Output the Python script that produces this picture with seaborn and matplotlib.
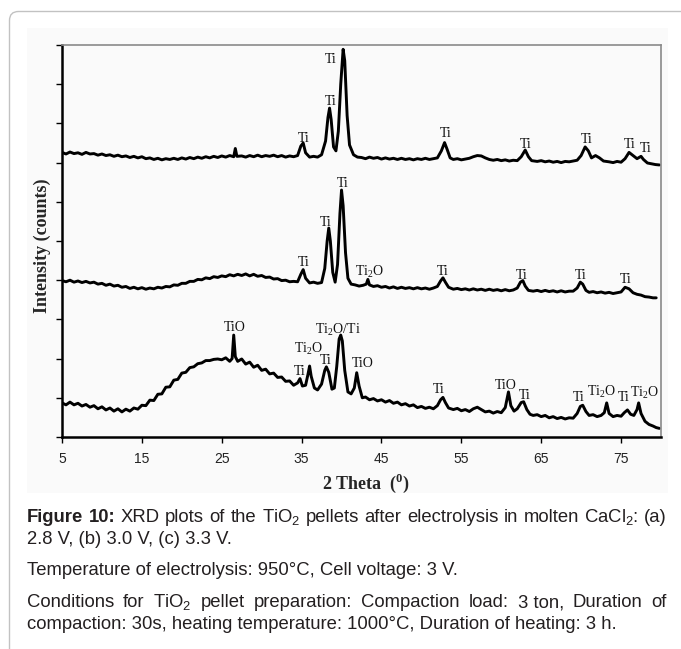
import matplotlib
matplotlib.use("Agg")
import matplotlib.pyplot as plt
import numpy as np
import pandas as pd
import seaborn as sns
from matplotlib.patches import FancyBboxPatch, Rectangle
from matplotlib.transforms import IdentityTransform

# ---------------- data ----------------
# (a) 2.8 V  -- top pattern
a_x = [5.0, 5.5, 6.0, 6.5, 7.0, 7.5, 8.0, 8.5, 9.0, 9.5,
       10.0, 10.5, 11.0, 11.5, 12.0, 12.5, 13.0, 13.5, 14.0, 14.5,
       15.0, 15.5, 16.0, 16.5, 17.0, 17.5, 18.0, 18.5, 19.0, 19.5,
       20.0, 20.5, 21.0, 21.5, 22.0, 22.5, 23.0, 23.5, 24.0, 24.5,
       25.0, 25.5, 26.0, 26.5, 26.7, 26.9, 27.5, 28.0, 28.5, 29.0,
       29.5, 30.0, 30.5, 31.0, 31.5, 32.0, 32.5, 33.0, 33.5, 34.0,
       34.5, 34.9, 35.2, 35.5, 36.0, 36.5, 37.0, 37.5, 38.0, 38.3,
       38.5, 38.7, 39.0, 39.3, 39.6, 39.9, 40.2, 40.4, 40.7, 41.0,
       41.5, 42.0, 42.5, 43.0, 43.5, 44.0, 44.5, 45.0, 45.5, 46.0,
       46.5, 47.0, 47.5, 48.0, 48.5, 49.0, 49.5, 50.0, 50.5, 51.0,
       51.5, 52.0, 52.5, 52.9, 53.2, 53.6, 54.0, 54.5, 55.0, 55.5,
       56.0, 56.5, 57.0, 57.5, 58.0, 58.5, 59.0, 59.5, 60.0, 60.5,
       61.0, 61.5, 62.0, 62.5, 63.0, 63.4, 63.8, 64.5, 65.0, 65.5,
       66.0, 66.5, 67.0, 67.5, 68.0, 68.5, 69.0, 69.5, 70.0, 70.5,
       70.9, 71.3, 71.8, 72.3, 72.8, 73.5, 74.0, 74.5, 75.0, 75.5,
       76.0, 76.5, 77.0, 77.5, 77.8, 78.3, 78.8, 79.3, 79.8]
a_y = [7.26, 7.22, 7.27, 7.23, 7.25, 7.21, 7.26, 7.22, 7.23, 7.19,
       7.22, 7.18, 7.20, 7.16, 7.19, 7.15, 7.17, 7.13, 7.16, 7.12,
       7.15, 7.10, 7.12, 7.08, 7.11, 7.07, 7.10, 7.08, 7.11, 7.08,
       7.12, 7.09, 7.13, 7.10, 7.14, 7.11, 7.15, 7.12, 7.16, 7.13,
       7.17, 7.14, 7.18, 7.15, 7.36, 7.16, 7.17, 7.14, 7.18, 7.15,
       7.19, 7.15, 7.18, 7.16, 7.19, 7.15, 7.18, 7.14, 7.17, 7.15,
       7.18, 7.42, 7.50, 7.25, 7.14, 7.16, 7.14, 7.20, 7.55, 8.15,
       8.39, 8.10, 7.40, 7.30, 7.80, 9.00, 9.89, 9.60, 8.20, 7.45,
       7.20, 7.14, 7.13, 7.10, 7.14, 7.11, 7.13, 7.09, 7.12, 7.09,
       7.11, 7.08, 7.11, 7.08, 7.10, 7.07, 7.10, 7.08, 7.11, 7.08,
       7.10, 7.12, 7.30, 7.51, 7.35, 7.12, 7.08, 7.10, 7.07, 7.09,
       7.11, 7.15, 7.18, 7.17, 7.12, 7.08, 7.06, 7.08, 7.05, 7.07,
       7.04, 7.06, 7.05, 7.15, 7.32, 7.15, 7.05, 7.03, 7.05, 7.02,
       7.04, 7.01, 7.03, 7.00, 7.03, 7.02, 7.04, 7.06, 7.18, 7.40,
       7.30, 7.12, 7.18, 7.12, 7.04, 7.02, 7.00, 7.03, 7.01, 7.10,
       7.26, 7.18, 7.10, 7.16, 7.08, 6.99, 6.97, 6.95, 6.94]

# (b) 3.0 V  -- middle pattern
b_x = [5.0, 5.5, 6.0, 6.5, 7.0, 7.5, 8.0, 8.5, 9.0, 9.5,
       10.0, 10.5, 11.0, 11.5, 12.0, 12.5, 13.0, 13.5, 14.0, 14.5,
       15.0, 15.5, 16.0, 16.5, 17.0, 17.5, 18.0, 18.5, 19.0, 19.5,
       20.0, 20.5, 21.0, 21.5, 22.0, 22.5, 23.0, 23.5, 24.0, 24.5,
       25.0, 25.5, 26.0, 26.5, 27.0, 27.5, 28.0, 28.5, 29.0, 29.5,
       30.0, 30.5, 31.0, 31.5, 32.0, 32.5, 33.0, 33.5, 34.0, 34.5,
       34.9, 35.2, 35.5, 36.0, 36.5, 37.0, 37.5, 37.9, 38.2, 38.4,
       38.6, 38.9, 39.2, 39.5, 39.8, 40.0, 40.2, 40.5, 40.8, 41.2,
       41.7, 42.2, 42.7, 43.1, 43.3, 43.5, 44.0, 44.5, 45.0, 45.5,
       46.0, 46.5, 47.0, 47.5, 48.0, 48.5, 49.0, 49.5, 50.0, 50.5,
       51.0, 51.5, 52.0, 52.4, 52.7, 53.0, 53.4, 54.0, 54.5, 55.0,
       55.5, 56.0, 56.5, 57.0, 57.5, 58.0, 58.5, 59.0, 59.5, 60.0,
       60.5, 61.0, 61.5, 62.0, 62.4, 62.7, 63.0, 63.4, 64.0, 64.5,
       65.0, 65.5, 66.0, 66.5, 67.0, 67.5, 68.0, 68.5, 69.0, 69.5,
       69.9, 70.2, 70.6, 71.0, 71.5, 72.0, 72.5, 73.0, 73.5, 74.0,
       74.5, 75.0, 75.5, 76.0, 76.5, 77.0, 77.5, 78.0, 78.5, 79.0, 79.4]
b_y = [3.99, 3.96, 4.00, 3.95, 3.98, 3.94, 3.97, 3.93, 3.95, 3.90,
       3.92, 3.87, 3.90, 3.85, 3.87, 3.82, 3.84, 3.79, 3.82, 3.78,
       3.81, 3.77, 3.80, 3.78, 3.82, 3.80, 3.84, 3.83, 3.88, 3.87,
       3.92, 3.92, 3.97, 3.97, 4.02, 4.01, 4.06, 4.04, 4.09, 4.07,
       4.11, 4.09, 4.14, 4.11, 4.15, 4.12, 4.16, 4.11, 4.15, 4.10,
       4.12, 4.07, 4.08, 4.03, 4.04, 3.99, 4.00, 3.96, 3.97, 3.96,
       4.15, 4.27, 4.05, 3.93, 3.95, 3.92, 3.94, 4.30, 5.00, 5.33,
       5.00, 4.20, 3.95, 4.40, 5.70, 6.30, 5.90, 4.70, 4.05, 3.90,
       3.88, 3.85, 3.87, 3.90, 4.02, 3.88, 3.84, 3.86, 3.82, 3.84,
       3.80, 3.83, 3.79, 3.82, 3.79, 3.81, 3.78, 3.81, 3.78, 3.80,
       3.77, 3.80, 3.84, 3.98, 4.06, 3.95, 3.82, 3.77, 3.79, 3.76,
       3.78, 3.75, 3.78, 3.75, 3.77, 3.74, 3.77, 3.74, 3.76, 3.73,
       3.76, 3.73, 3.75, 3.80, 3.95, 3.99, 3.85, 3.74, 3.72, 3.74,
       3.71, 3.74, 3.71, 3.73, 3.70, 3.73, 3.70, 3.72, 3.72, 3.80,
       3.95, 3.90, 3.74, 3.69, 3.71, 3.68, 3.70, 3.67, 3.69, 3.66,
       3.68, 3.70, 3.82, 3.78, 3.68, 3.64, 3.62, 3.58, 3.57, 3.55, 3.55]

# (c) 3.3 V  -- bottom pattern
c_x = [5.0, 5.5, 6.0, 6.5, 7.0, 7.5, 8.0, 8.5, 9.0, 9.5,
       10.0, 10.5, 11.0, 11.5, 12.0, 12.5, 13.0, 13.5, 14.0, 14.5,
       15.0, 15.5, 16.0, 16.5, 17.0, 17.5, 18.0, 18.5, 19.0, 19.5,
       20.0, 20.5, 21.0, 21.5, 22.0, 22.5, 23.0, 23.5, 24.0, 24.5,
       25.0, 25.5, 26.0, 26.3, 26.5, 26.7, 27.0, 27.5, 28.0, 28.5,
       29.0, 29.5, 30.0, 30.5, 31.0, 31.5, 32.0, 32.5, 33.0, 33.5,
       34.0, 34.5, 34.8, 35.1, 35.5, 35.8, 36.0, 36.2, 36.6, 37.0,
       37.5, 37.9, 38.1, 38.4, 38.8, 39.1, 39.4, 39.7, 39.9, 40.1,
       40.4, 40.8, 41.2, 41.6, 41.9, 42.2, 42.6, 43.0, 43.5, 44.0,
       44.5, 45.0, 45.5, 46.0, 46.5, 47.0, 47.5, 48.0, 48.5, 49.0,
       49.5, 50.0, 50.5, 51.0, 51.5, 52.0, 52.4, 52.7, 53.0, 53.4,
       54.0, 54.5, 55.0, 55.5, 56.0, 56.5, 57.0, 57.5, 58.0, 58.5,
       59.0, 59.5, 60.0, 60.5, 60.9, 61.2, 61.6, 62.0, 62.5, 62.8,
       63.2, 63.6, 64.0, 64.5, 65.0, 65.5, 66.0, 66.5, 67.0, 67.5,
       68.0, 68.5, 69.0, 69.5, 69.9, 70.2, 70.6, 71.0, 71.5, 72.0,
       72.5, 72.9, 73.2, 73.5, 74.0, 74.5, 75.0, 75.4, 75.8, 76.2,
       76.6, 77.0, 77.2, 77.5, 78.0, 78.5, 79.0, 79.4, 79.8]
c_y = [0.87, 0.82, 0.89, 0.82, 0.86, 0.79, 0.83, 0.76, 0.80, 0.72,
       0.77, 0.69, 0.74, 0.66, 0.72, 0.64, 0.71, 0.66, 0.74, 0.71,
       0.81, 0.80, 0.94, 0.93, 1.09, 1.10, 1.27, 1.28, 1.45, 1.47,
       1.63, 1.65, 1.77, 1.79, 1.87, 1.89, 1.95, 1.95, 1.98, 1.99,
       1.97, 2.02, 1.93, 2.00, 2.60, 2.05, 1.93, 1.99, 1.86, 1.91,
       1.78, 1.83, 1.70, 1.73, 1.61, 1.63, 1.52, 1.53, 1.42, 1.43,
       1.32, 1.38, 1.49, 1.30, 1.32, 1.60, 1.81, 1.55, 1.25, 1.20,
       1.35, 1.70, 1.79, 1.65, 1.22, 1.25, 1.80, 2.50, 2.60, 2.45,
       1.70, 1.15, 1.10, 1.25, 1.64, 1.30, 1.00, 1.02, 0.95, 0.98,
       0.92, 0.95, 0.89, 0.93, 0.86, 0.89, 0.82, 0.85, 0.79, 0.82,
       0.75, 0.78, 0.73, 0.76, 0.72, 0.80, 0.95, 1.01, 0.88, 0.74,
       0.70, 0.73, 0.67, 0.70, 0.65, 0.72, 0.76, 0.70, 0.64, 0.66,
       0.61, 0.65, 0.62, 0.75, 1.15, 0.80, 0.66, 0.72, 0.88, 0.90,
       0.70, 0.58, 0.55, 0.57, 0.52, 0.55, 0.49, 0.52, 0.47, 0.50,
       0.46, 0.49, 0.48, 0.60, 0.78, 0.81, 0.65, 0.55, 0.57, 0.52,
       0.55, 0.62, 0.87, 0.60, 0.52, 0.55, 0.53, 0.62, 0.69, 0.58,
       0.55, 0.70, 0.87, 0.60, 0.40, 0.32, 0.28, 0.24, 0.22]

# peak labels: text, 2-theta, intensity
TI2O = r"Ti$_\mathdefault{2}$O"
peak_text = ["Ti", "Ti", "Ti", "Ti", "Ti", "Ti", "Ti", "Ti",
             "Ti", "Ti", "Ti", TI2O, "Ti", "Ti", "Ti", "Ti",
             "TiO", "Ti", TI2O, "Ti", TI2O + "/Ti", "TiO", "Ti", "TiO", "Ti",
             "Ti", TI2O, "Ti", TI2O]
peak_x = [35.2, 38.7, 38.6, 53.1, 63.1, 70.7, 76.1, 78.1,
          35.2, 38.0, 40.2, 43.5, 52.7, 62.5, 70.0, 75.6,
          26.6, 34.8, 35.9, 38.0, 39.5, 42.6, 52.2, 60.6, 62.9,
          69.7, 72.6, 75.3, 78.0]
peak_y = [7.66, 8.59, 9.67, 7.77, 7.51, 7.62, 7.49, 7.39,
          4.49, 5.50, 6.50, 4.27, 4.27, 4.17, 4.17, 4.06,
          2.82, 1.70, 2.30, 1.98, 2.79, 1.92, 1.24, 1.35, 1.09,
          1.04, 1.20, 1.04, 1.18]

x_ticks = [5, 15, 25, 35, 45, 55, 65, 75]
x_label = r"2 Theta  ($^\mathdefault{0}$)"
y_label = "Intensity (counts)"

caption = [
    ([("Figure", True), ("10:", True), ("XRD", False), ("plots", False), ("of", False),
      ("the", False), (r"TiO$_\mathdefault{2}$", False), ("pellets", False), ("after", False),
      ("electrolysis", False), ("in", False), ("molten", False),
      (r"CaCl$_\mathdefault{2}$:", False), ("(a)", False)], True),
    ([("2.8 V, (b) 3.0 V, (c) 3.3 V.", False)], False),
    ([("Temperature of electrolysis: 950°C, Cell voltage: 3 V.", False)], False),
    ([("Conditions", False), ("for", False), (r"TiO$_\mathdefault{2}$", False), ("pellet", False),
      ("preparation:", False), ("Compaction", False), ("load:", False),
      ("3 ton,", False), ("Duration", False), ("of", False)], True),
    ([("compaction: 30s, heating temperature: 1000°C, Duration of heating: 3 h.", False)], False),
]
caption_baselines = [522, 544, 575, 607, 629]

# ---------------- figure ----------------
W, H, DPI = 681, 649, 100
sns.set_theme(style="white")
plt.rcParams["font.family"] = ["Liberation Serif", "DejaVu Serif"]

fig = plt.figure(figsize=(W / DPI, H / DPI), dpi=DPI)
fig.patch.set_facecolor("white")

# outer rounded frame (only its top-left part is visible)
frame = FancyBboxPatch((9.5, -40), 720, H - 11.5 + 40,
                       boxstyle="round,pad=0,rounding_size=9",
                       transform=IdentityTransform(), fill=False,
                       edgecolor="#c2c2c2", lw=1.0, zorder=0)
fig.add_artist(frame)
# faint background of the chart image
bg = Rectangle((27 / W, 1 - 493 / H), (668 - 27) / W, (493 - 28) / H,
               transform=fig.transFigure, facecolor="#fafafa", edgecolor="none", zorder=0)
fig.add_artist(bg)

ax = fig.add_axes([62 / W, 1 - 437 / H, (661 - 62) / W, (437 - 45) / H])
ax.set_facecolor("none")

for xs, ys in [(a_x, a_y), (b_x, b_y), (c_x, c_y)]:
    df = pd.DataFrame({"two_theta": xs, "intensity": ys})
    sns.lineplot(data=df, x="two_theta", y="intensity", ax=ax, color="black",
                 lw=2.1, sort=False, estimator=None)

for s, px, py in zip(peak_text, peak_x, peak_y):
    ax.text(px, py, s, ha="center", va="center_baseline", fontsize=10,
            family="Liberation Serif", color="#111111")

ax.set_xlim(5, 80)
ax.set_ylim(0, 10)
ax.set_xticks(x_ticks)
ax.set_xticklabels([str(t) for t in x_ticks])
ax.set_yticks(range(0, 11))
ax.set_yticklabels([])
ax.tick_params(axis="x", direction="out", length=4, width=1, color="black",
               labelcolor="#222222", labelsize=10, pad=7, bottom=True)
ax.tick_params(axis="y", direction="out", length=4, width=1, color="black", left=True)
for lab in ax.get_xticklabels():
    lab.set_fontfamily(["Liberation Sans Narrow", "Liberation Sans"])

for side in ["left", "bottom"]:
    ax.spines[side].set_color("black")
    ax.spines[side].set_linewidth(1.8)
for side in ["top", "right"]:
    ax.spines[side].set_color("#8a8a8a")
    ax.spines[side].set_linewidth(1.2)

ax.set_xlabel(x_label, fontsize=13, fontweight="bold", family="Liberation Serif", va="center")
ax.xaxis.set_label_coords((365.5 - 62) / 599, (437 - 483) / 392)
ax.set_ylabel(y_label, fontsize=13, fontweight="bold", family="Liberation Serif", va="center")
ax.yaxis.set_label_coords((42 - 62) / 599, (437 - 246) / 392)

# ---------------- caption (justified lines) ----------------
renderer = fig.canvas.get_renderer()
CAP_SIZE = 13.3
x_left, x_right = 26.7, 667.0
for (words, justify), yb in zip(caption, caption_baselines):
    arts = []
    for w, bold in words:
        t = fig.text(0, float(H - yb), w, fontsize=CAP_SIZE,
                     fontweight="bold" if bold else "normal",
                     family="Liberation Sans", color="#231f20",
                     ha="left", va="baseline", transform=IdentityTransform())
        arts.append(t)
    widths = [t.get_window_extent(renderer=renderer).width for t in arts]
    if justify and len(arts) > 1:
        gap = (x_right - x_left - sum(widths)) / (len(arts) - 1)
    else:
        gap = 0.278 * CAP_SIZE * DPI / 72
    xpos = x_left
    for t, w in zip(arts, widths):
        t.set_x(xpos)
        xpos += w + gap

fig.savefig("out.png", dpi=DPI, facecolor="white")
